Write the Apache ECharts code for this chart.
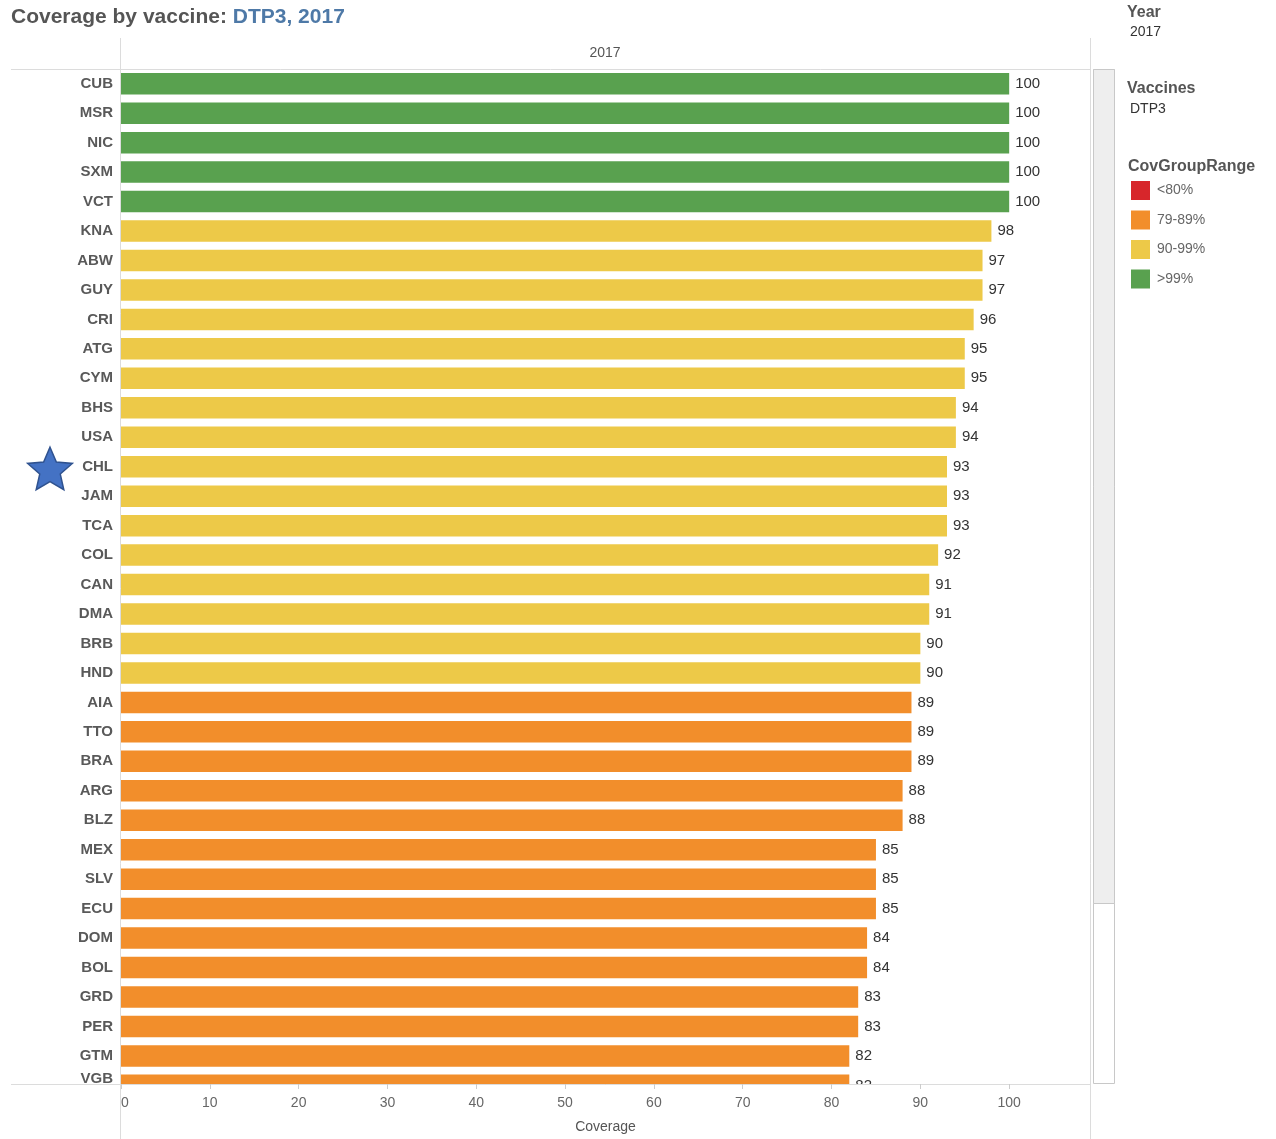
<!DOCTYPE html>
<html>
<head>
<meta charset="utf-8">
<title>Coverage by vaccine: DTP3, 2017</title>
<script src="https://cdn.jsdelivr.net/npm/echarts@6/dist/echarts.min.js"></script>
<style>
  html, body { margin: 0; padding: 0; background: #ffffff; }
  #chart { width: 1276px; height: 1139px; }
</style>
</head>
<body>
<div id="chart"></div>
<script>
// DTP3 coverage (%) by country, 2017 — sorted from highest to lowest
const countries = ['CUB', 'MSR', 'NIC', 'SXM', 'VCT', 'KNA', 'ABW', 'GUY', 'CRI', 'ATG',
  'CYM', 'BHS', 'USA', 'CHL', 'JAM', 'TCA', 'COL', 'CAN', 'DMA', 'BRB',
  'HND', 'AIA', 'TTO', 'BRA', 'ARG', 'BLZ', 'MEX', 'SLV', 'ECU', 'DOM',
  'BOL', 'GRD', 'PER', 'GTM', 'VGB'];
const coverage = [100, 100, 100, 100, 100, 98, 97, 97, 96, 95,
  95, 94, 94, 93, 93, 93, 92, 91, 91, 90,
  90, 89, 89, 89, 88, 88, 85, 85, 85, 84,
  84, 83, 83, 82, 82];
const groupNames = ['<80%', '79-89%', '90-99%', '>99%'];
const groupColors = ['#d7262b', '#f28e2b', '#edc948', '#59a14f'];
const xTicks = [0, 10, 20, 30, 40, 50, 60, 70, 80, 90, 100];
const highlighted = 'CHL';

function groupOf(v) {
  if (v > 99) return 3;
  if (v >= 90) return 2;
  if (v >= 80) return 1;
  return 0;
}

const chart = echarts.init(document.getElementById('chart'), null, { renderer: 'canvas' });

const FONT = 'Liberation Sans, Arial, sans-serif';
const PLOT_LEFT = 121, PLOT_RIGHT = 1090, PLOT_TOP = 69, AXIS_Y = 1084;
const ROW = 29.46;

// One bar series per coverage group, overlapped in the same band
const series = groupNames.map((name, g) => ({
  name: name,
  type: 'bar',
  xAxisIndex: 0,
  yAxisIndex: 0,
  barWidth: '73%',
  barGap: '-100%',
  itemStyle: { color: groupColors[g] },
  label: {
    show: true,
    position: 'right',
    distance: 6,
    fontFamily: FONT,
    fontSize: 15,
    color: '#333333',
    formatter: p => String(p.value)
  },
  data: coverage.map(v => (groupOf(v) === g ? v : '-'))
}));

const lineStyle = { stroke: '#dcdcdc', lineWidth: 1 };

const graphics = [
  // white band that hides the rows scrolled below the axis
  { id: 'cover', type: 'rect', z: 50, silent: true,
    shape: { x: 0, y: AXIS_Y + 0.5, width: PLOT_RIGHT, height: 60 },
    style: { fill: '#ffffff' } },
  { id: 'hdrLine', type: 'line', z: 60, silent: true,
    shape: { x1: 11, y1: PLOT_TOP + 0.5, x2: PLOT_RIGHT, y2: PLOT_TOP + 0.5 }, style: lineStyle },
  { id: 'axisLineL', type: 'line', z: 60, silent: true,
    shape: { x1: 11, y1: AXIS_Y + 0.5, x2: PLOT_LEFT, y2: AXIS_Y + 0.5 }, style: lineStyle },
  { id: 'vLineL', type: 'line', z: 60, silent: true,
    shape: { x1: 120.5, y1: 38, x2: 120.5, y2: 1139 }, style: lineStyle },
  { id: 'vLineR', type: 'line', z: 60, silent: true,
    shape: { x1: 1090.5, y1: 38, x2: 1090.5, y2: 1139 }, style: lineStyle },
  // scroll bar
  { id: 'scrollTrack', type: 'rect', z: 60, silent: true,
    shape: { x: 1093.5, y: 69.5, width: 21, height: 1014 },
    style: { fill: '#ffffff', stroke: '#c8c8c8', lineWidth: 1 } },
  { id: 'scrollThumb', type: 'rect', z: 61, silent: true,
    shape: { x: 1093.5, y: 69.5, width: 21, height: 834 },
    style: { fill: '#eeeeee', stroke: '#c8c8c8', lineWidth: 1 } },
  // column header
  { id: 'colHeader', type: 'text', z: 60, silent: true,
    style: { text: '2017', x: 605, y: 53, align: 'center', verticalAlign: 'middle',
      font: '14px ' + FONT, fill: '#555555' } },
  // filter cards
  { id: 'yearTitle', type: 'text', z: 60, silent: true,
    style: { text: 'Year', x: 1127, y: 13, verticalAlign: 'middle',
      font: 'bold 16px ' + FONT, fill: '#555555' } },
  { id: 'yearValue', type: 'text', z: 60, silent: true,
    style: { text: '2017', x: 1130, y: 32, verticalAlign: 'middle',
      font: '14px ' + FONT, fill: '#333333' } },
  { id: 'vacTitle', type: 'text', z: 60, silent: true,
    style: { text: 'Vaccines', x: 1127, y: 89, verticalAlign: 'middle',
      font: 'bold 16px ' + FONT, fill: '#555555' } },
  { id: 'vacValue', type: 'text', z: 60, silent: true,
    style: { text: 'DTP3', x: 1130, y: 109, verticalAlign: 'middle',
      font: '14px ' + FONT, fill: '#333333' } },
  { id: 'legendTitle', type: 'text', z: 60, silent: true,
    style: { text: 'CovGroupRange', x: 1128, y: 167, verticalAlign: 'middle',
      font: 'bold 16px ' + FONT, fill: '#555555' } }
];

const option = {
  backgroundColor: '#ffffff',
  animation: false,
  title: {
    left: 11,
    top: 7,
    padding: 0,
    text: '{a|Coverage by vaccine: }{b|DTP3, 2017}',
    textStyle: {
      rich: {
        a: { fontFamily: FONT, fontSize: 21, fontWeight: 'bold', color: '#555555' },
        b: { fontFamily: FONT, fontSize: 21, fontWeight: 'bold', color: '#4e79a7' }
      }
    }
  },
  legend: {
    orient: 'vertical',
    left: 1131,
    top: 181,
    padding: 0,
    itemWidth: 19,
    itemHeight: 19,
    itemGap: 10.5,
    icon: 'rect',
    selectedMode: false,
    textStyle: { fontFamily: FONT, fontSize: 14, color: '#666666', padding: [2, 0, 0, 2] },
    data: groupNames
  },
  grid: [
    // bars: 35 rows, the last one partly below the axis
    { left: PLOT_LEFT, width: PLOT_RIGHT - PLOT_LEFT, top: PLOT_TOP, height: ROW * countries.length },
    // axis frame for the visible window
    { left: PLOT_LEFT, width: PLOT_RIGHT - PLOT_LEFT, top: PLOT_TOP, height: AXIS_Y - PLOT_TOP }
  ],
  xAxis: [
    { gridIndex: 0, type: 'value', min: 0, max: 109.1, show: false, splitLine: { show: false } },
    {
      gridIndex: 1, type: 'value', min: 0, max: 109.1, interval: 10, z: 100,
      name: 'Coverage', nameLocation: 'middle', nameGap: 36,
      nameTextStyle: { fontFamily: FONT, fontSize: 14, color: '#555555' },
      axisLine: { show: true, lineStyle: { color: '#dcdcdc', width: 1 } },
      axisTick: { show: true, length: 5, lineStyle: { color: '#cccccc' } },
      splitLine: { show: false },
      axisLabel: {
        margin: 12, fontFamily: FONT, fontSize: 14, color: '#666666',
        showMaxLabel: false, alignMinLabel: 'left',
        formatter: v => (xTicks.indexOf(v) >= 0 ? String(v) : '')
      }
    }
  ],
  yAxis: [
    {
      gridIndex: 0, type: 'category', inverse: true, data: countries, z: 100,
      axisLine: { show: false },
      axisTick: { show: false },
      splitLine: { show: false },
      axisLabel: {
        margin: 8, fontFamily: FONT, fontSize: 15, fontWeight: 'bold', color: '#595959',
        formatter: (v, i) => (i === countries.length - 1 ? '{last|' + v + '}' : v),
        rich: {
          last: { fontFamily: FONT, fontSize: 15, fontWeight: 'bold', color: '#595959',
            padding: [0, 0, 14, 0] }
        }
      }
    },
    { gridIndex: 1, type: 'value', show: false, min: 0, max: 1 }
  ],
  graphic: { elements: graphics },
  series: series
};

chart.setOption(option);

// star marking the highlighted country, placed beside its row label
function starPoints(cx, cy, R, r) {
  const pts = [];
  for (let k = 0; k < 10; k++) {
    const rad = k % 2 === 0 ? R : r;
    const a = -Math.PI / 2 + k * Math.PI / 5;
    pts.push([cx + rad * Math.cos(a), cy + rad * Math.sin(a)]);
  }
  return pts;
}
const rowY = chart.convertToPixel({ yAxisIndex: 0 }, highlighted);
const zeroX = chart.convertToPixel({ xAxisIndex: 0 }, 0);
chart.setOption({
  graphic: {
    elements: [{
      id: 'star', type: 'polygon', z: 60, silent: true,
      shape: { points: starPoints(zeroX - 71, rowY + 4, 23.5, 10.8) },
      style: { fill: '#4472c4', stroke: '#2f528f', lineWidth: 1.5 }
    }]
  }
});
</script>
</body>
</html>
